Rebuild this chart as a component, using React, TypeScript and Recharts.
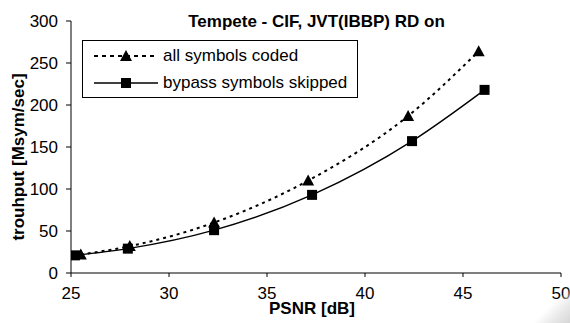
import React from "react";
import { LineChart, Line, XAxis, YAxis, Label } from "recharts";

// PSNR [dB] / throughput [Msym/sec]
const allCodedPsnr = [25.5, 28.0, 32.3, 37.1, 42.2, 45.8];
const allCodedRate = [22, 32, 60, 110, 187, 264];
const bypassPsnr = [25.2, 27.9, 32.3, 37.3, 42.4, 46.1];
const bypassRate = [21, 29, 51, 93, 157, 218];

const xTicks = [25, 30, 35, 40, 45, 50];
const yTicks = [0, 50, 100, 150, 200, 250, 300];

const allCoded = allCodedPsnr.map((x, i) => ({ x, y: allCodedRate[i] }));
const bypass = bypassPsnr.map((x, i) => ({ x, y: bypassRate[i] }));

const FONT = "Arial, 'Liberation Sans', Helvetica, sans-serif";

function Triangle({ cx, cy }: { cx?: number; cy?: number }) {
  if (cx == null || cy == null) return null;
  return <path d={`M${cx},${cy - 6}L${cx + 6},${cy + 5}L${cx - 6},${cy + 5}Z`} fill="#000" />;
}

function Square({ cx, cy }: { cx?: number; cy?: number }) {
  if (cx == null || cy == null) return null;
  return <rect x={cx - 5} y={cy - 5} width={10} height={10} fill="#000" />;
}

function LegendBox() {
  const row = (dashed: boolean, marker: React.ReactNode, text: string) => (
    <div style={{ display: "flex", alignItems: "center", height: 27 }}>
      <svg width={66} height={14} style={{ marginLeft: 11 }}>
        <line
          x1={0}
          y1={7}
          x2={64}
          y2={7}
          stroke="#000"
          strokeWidth={dashed ? 2 : 1.3}
          strokeDasharray={dashed ? "4 4" : undefined}
        />
        {marker}
      </svg>
      <span style={{ marginLeft: 3, fontSize: 17, lineHeight: "17px" }}>{text}</span>
    </div>
  );
  return (
    <div
      style={{
        position: "absolute",
        left: 82,
        top: 40,
        width: 274,
        height: 55,
        border: "1px solid #000",
        background: "#fff",
        fontFamily: FONT,
        paddingTop: 1,
        boxSizing: "content-box",
      }}
    >
      {row(true, <Triangle cx={32} cy={7} />, "all symbols coded")}
      {row(false, <Square cx={32} cy={7} />, "bypass symbols skipped")}
    </div>
  );
}

function YTitle({ viewBox }: any) {
  const cx = 18;
  const cy = viewBox.y + viewBox.height / 2 + 10;
  return (
    <text
      x={cx}
      y={cy}
      transform={`rotate(-90, ${cx}, ${cy})`}
      textAnchor="middle"
      dominantBaseline="central"
      fontFamily={FONT}
      fontSize={17}
      fontWeight="bold"
      fill="#000"
    >
      trouhput [Msym/sec]
    </text>
  );
}

function XTitle({ viewBox }: any) {
  const cx = viewBox.x + viewBox.width / 2 - 4;
  return (
    <text
      x={cx}
      y={viewBox.y + 41}
      textAnchor="middle"
      fontFamily={FONT}
      fontSize={17}
      fontWeight="bold"
      fill="#000"
    >
      PSNR [dB]
    </text>
  );
}

export default function App() {
  return (
    <div
      style={{
        position: "absolute",
        left: 0,
        top: 0,
        width: 570,
        height: 323,
        background: "#fff",
        overflow: "hidden",
      }}
    >
      <LineChart width={570} height={323} margin={{ top: 21, right: 9, bottom: 0, left: 0 }}>
        <XAxis
          dataKey="x"
          type="number"
          domain={[25, 50]}
          ticks={xTicks}
          allowDataOverflow
          height={50}
          stroke="#000"
          tickSize={4}
          tickMargin={10}
          tick={{ fill: "#000", fontSize: 17, fontFamily: FONT }}
        >
          <Label content={<XTitle />} />
        </XAxis>
        <YAxis
          dataKey="y"
          type="number"
          domain={[0, 300]}
          ticks={yTicks}
          width={71}
          stroke="#000"
          tickSize={5}
          tickMargin={8}
          tick={{ fill: "#000", fontSize: 17, fontFamily: FONT }}
        >
          <Label content={<YTitle />} />
        </YAxis>
        <Line
          data={allCoded}
          dataKey="y"
          type="monotone"
          stroke="#000"
          strokeWidth={2}
          strokeDasharray="3 4"
          dot={<Triangle />}
          activeDot={false}
          isAnimationActive={false}
        />
        <Line
          data={bypass}
          dataKey="y"
          type="monotone"
          stroke="#000"
          strokeWidth={1.4}
          dot={<Square />}
          activeDot={false}
          isAnimationActive={false}
        />
      </LineChart>
      <LegendBox />
      <div
        style={{
          position: "absolute",
          left: 178,
          top: 12,
          width: 277,
          textAlign: "center",
          fontFamily: FONT,
          fontSize: 17,
          fontWeight: "bold",
          lineHeight: "20px",
          whiteSpace: "nowrap",
        }}
      >
        Tempete - CIF, JVT(IBBP) RD on
      </div>
      <div
        style={{
          position: "absolute",
          left: 525,
          top: 285,
          width: 45,
          height: 38,
          background:
            "linear-gradient(135deg, rgba(255,255,255,0) 55%, #e8e8e8 78%, #d6d6d6 100%)",
        }}
      />
    </div>
  );
}
